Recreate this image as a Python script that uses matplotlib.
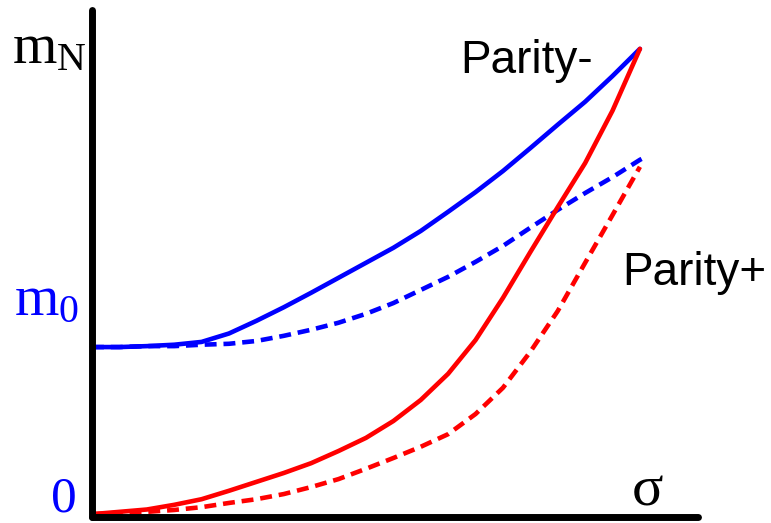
import numpy as np
import matplotlib
matplotlib.use("Agg")
import matplotlib.pyplot as plt

plt.rcParams['mathtext.fontset'] = 'custom'
plt.rcParams['mathtext.rm'] = 'Liberation Serif'
plt.rcParams['mathtext.it'] = 'Liberation Serif:italic'

# sigma (x) and m_N (y), both scaled so the common end point is 1
sig = [0.0, 0.05, 0.1, 0.15, 0.2, 0.25, 0.3, 0.35, 0.4, 0.45, 0.5,
       0.55, 0.6, 0.65, 0.7, 0.75, 0.8, 0.85, 0.9, 0.95, 1.0]
sig_bd = sig + [1.01]

m_blue = [0.363, 0.363, 0.365, 0.368, 0.374, 0.392, 0.419, 0.448, 0.479, 0.511, 0.543,
          0.575, 0.611, 0.652, 0.694, 0.739, 0.788, 0.838, 0.887, 0.942, 1.0]
m_blue_d = [0.363, 0.363, 0.365, 0.365, 0.368, 0.370, 0.376, 0.387, 0.400, 0.415, 0.434,
            0.457, 0.485, 0.513, 0.545, 0.579, 0.618, 0.656, 0.692, 0.726, 0.763, 0.769]
m_red = [0.006, 0.011, 0.016, 0.026, 0.038, 0.056, 0.075, 0.094, 0.115, 0.141, 0.169,
         0.205, 0.250, 0.306, 0.378, 0.468, 0.566, 0.662, 0.756, 0.868, 1.0]
m_red_d = [0.006, 0.009, 0.011, 0.015, 0.021, 0.030, 0.038, 0.049, 0.064, 0.081, 0.103,
           0.126, 0.150, 0.177, 0.220, 0.276, 0.353, 0.440, 0.543, 0.645, 0.748]

W, H = 771, 523
fig = plt.figure(figsize=(W/100, H/100), dpi=100)
ax = fig.add_axes([92/W, 6/H, (698-92)/W, (517-10)/H])
ax.set_xlim(0, 1.106)
ax.set_ylim(0, 1.083)

lw = 3.3
ax.plot(sig, m_blue, color='#0000ff', lw=lw, solid_capstyle='round', clip_on=False)
ax.plot(sig_bd, m_blue_d, color='#0000ff', lw=lw, dashes=(2.6, 1.5), clip_on=False)
ax.plot(sig, m_red, color='#ff0000', lw=lw, solid_capstyle='round', clip_on=False)
ax.plot(sig, m_red_d, color='#ff0000', lw=lw, dashes=(2.6, 1.5), clip_on=False)

for s in ['top', 'right']:
    ax.spines[s].set_visible(False)
for s in ['left', 'bottom']:
    ax.spines[s].set_linewidth(5)
    ax.spines[s].set_capstyle('round')
ax.set_xticks([])
ax.set_yticks([])

def px(x, y):
    return x / W, 1 - y / H

fig.text(*px(12, 63), r'$\mathrm{m}_\mathrm{N}$', fontsize=41, color='black', va='baseline')
fig.text(*px(14, 315), r'$\mathrm{m}_\mathrm{0}$', fontsize=41, color='#0000ff', va='baseline')
fig.text(*px(51, 511), '0', fontsize=37, family='Liberation Serif', color='#0000ff', va='baseline')
fig.text(*px(632, 506), 'σ', fontsize=42, family='Liberation Serif', color='black', va='baseline')
fig.text(*px(460, 73), 'Parity-', fontsize=33, family='Liberation Sans', va='baseline')
fig.text(*px(622, 285), 'Parity+', fontsize=33, family='Liberation Sans', va='baseline')

fig.savefig('out.png', dpi=100)
